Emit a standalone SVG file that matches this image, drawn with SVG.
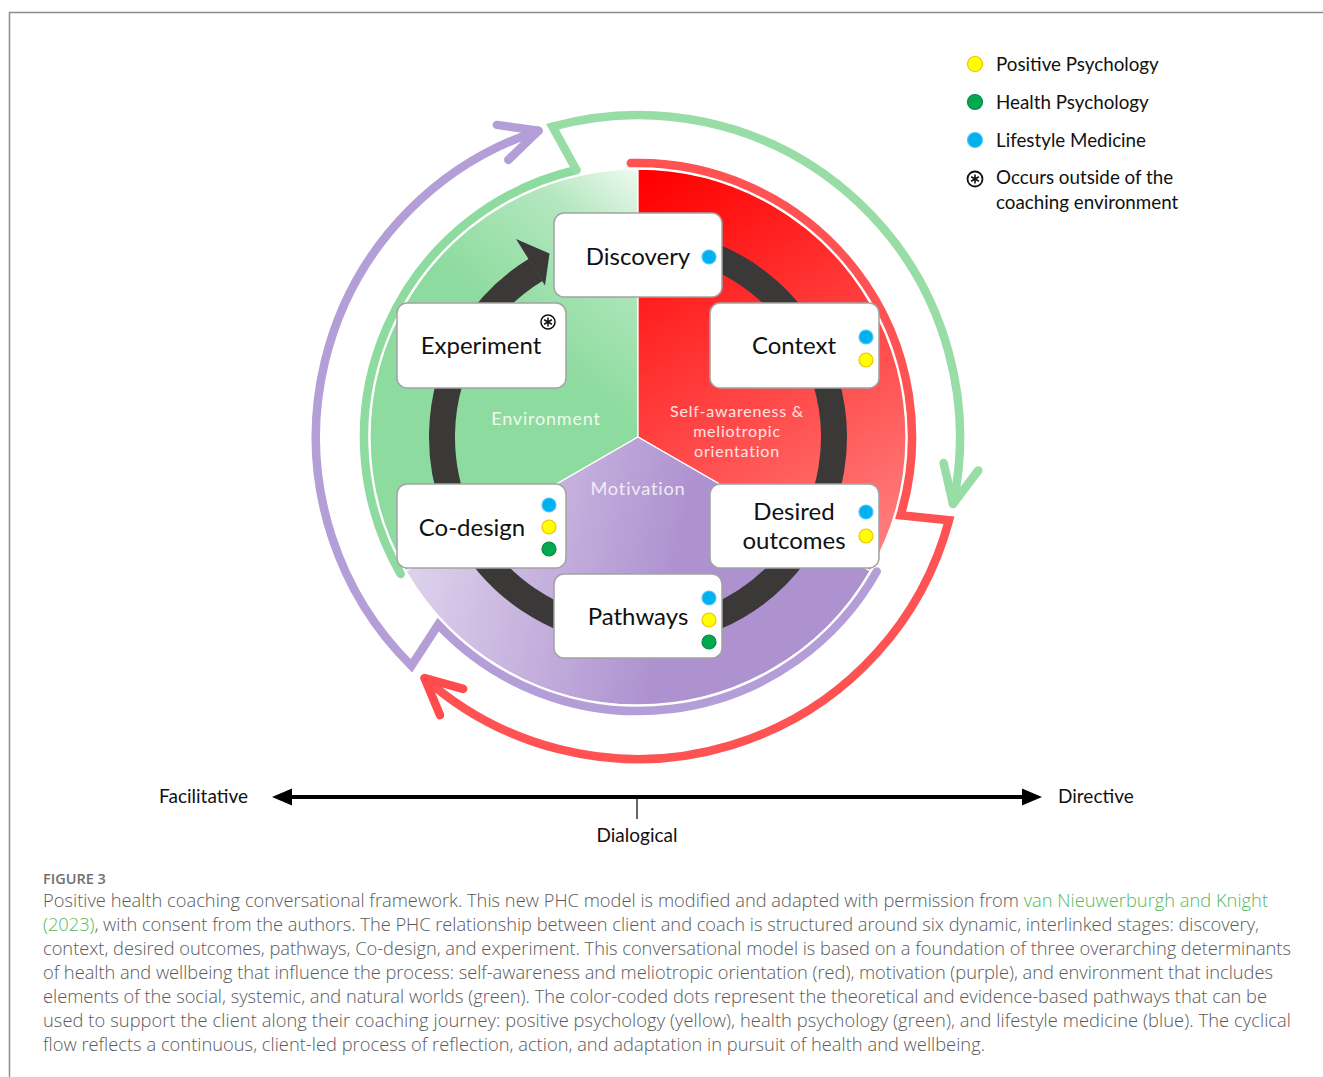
<svg xmlns="http://www.w3.org/2000/svg" width="1323" height="1077" viewBox="0 0 1323 1077">
  <style>
    .frame { stroke: #8c8c8c; stroke-width: 1.5; fill: none; }
    .box { fill: #ffffff; stroke: #a3a3a3; stroke-width: 1.5; }
    .btxt { font-family: Lato, "Liberation Sans", sans-serif; font-size: 24px; fill: #111; text-anchor: middle; }
    .stxt { font-family: Lato, "Liberation Sans", sans-serif; text-anchor: middle; letter-spacing: 0.8px; }
    .leg { font-family: Lato, "Liberation Sans", sans-serif; font-size: 18.8px; fill: #111; }
    .ax { font-family: Lato, "Liberation Sans", sans-serif; font-size: 19px; fill: #111; }
    .cap { font-family: "Open Sans", "Noto Sans", sans-serif; font-size: 18.3px; font-weight: 300; fill: #5a5a5a; }
    .link { fill: #55b85a; }
    .blue { fill: #00b0f0; stroke: #4fc6f3; stroke-width: 1.2; }
    .yel { fill: #ffff00; stroke: #f2c200; stroke-width: 1.2; }
    .grn { fill: #00a84f; stroke: #088a40; stroke-width: 1.2; }
    .flow { fill: none; stroke-width: 8.5; stroke-linecap: round; stroke-linejoin: miter; }
    .head { fill: none; stroke-width: 8.5; stroke-linecap: round; stroke-linejoin: round; }
    .sector { stroke: #ffffff; stroke-width: 1.3; }
  </style>
  <defs>
    <linearGradient id="gGreen" gradientUnits="userSpaceOnUse" x1="650" y1="172" x2="515" y2="330">
      <stop offset="0" stop-color="#f3fbf4"/>
      <stop offset="0.4" stop-color="#b3e7bf"/>
      <stop offset="1" stop-color="#8ddb9e"/>
    </linearGradient>
    <linearGradient id="gRed" gradientUnits="userSpaceOnUse" x1="650" y1="175" x2="885" y2="560">
      <stop offset="0" stop-color="#ff0000"/>
      <stop offset="1" stop-color="#ff8181"/>
    </linearGradient>
    <linearGradient id="gPurple" gradientUnits="userSpaceOnUse" x1="405" y1="585" x2="660" y2="640">
      <stop offset="0" stop-color="#ded2ec"/>
      <stop offset="1" stop-color="#ae92d0"/>
    </linearGradient>
  </defs>

  <!-- page frame -->
  <path class="frame" d="M9.5,1077 L9.5,12.5 L1323,12.5"/>

  <!-- three determinant sectors -->
  <g id="sector-environment">
    <path class="sector" fill="url(#gGreen)" d="M638,437 L405.9,571 A268,268 0 0 1 638,169 Z"/>
    <text class="stxt" x="546" y="425" font-size="18" fill="#eefaf0">Environment</text>
  </g>
  <g id="sector-self-awareness">
    <path class="sector" fill="url(#gRed)" d="M638,437 L638,169 A268,268 0 0 1 870.1,571 Z"/>
    <text class="stxt" x="737" y="417" font-size="16" fill="#ffe4e4">Self-awareness &amp;</text>
    <text class="stxt" x="737" y="437" font-size="16" fill="#ffe4e4">meliotropic</text>
    <text class="stxt" x="737" y="456.5" font-size="16" fill="#ffe4e4">orientation</text>
  </g>
  <g id="sector-motivation">
    <path class="sector" fill="url(#gPurple)" d="M638,437 L870.1,571 A268,268 0 0 1 405.9,571 Z"/>
    <text class="stxt" x="638" y="495" font-size="18.2" fill="#f1ebf8">Motivation</text>
  </g>

  <!-- connectors: outer flow arrows and inner cycle -->
  <g id="connectors">
    <path class="flow" stroke="#8ddb9e" d="M400.7,574 A274,274 0 0 1 576.4,170"/>
    <path class="flow" stroke="#98dca6" d="M576.4,170 L552.5,126.6 A322,322 0 0 1 953,503.9"/>
    <path class="head" stroke="#98dca6" d="M943.6,463 L953,503.9 L978.3,470.4"/>

    <path class="flow" stroke="#ff5252" d="M630.8,163.1 A274,274 0 0 1 900.6,515.3 L949,520.3 A322,322 0 0 1 424.6,678.2"/>
    <path class="head" stroke="#ff4b4b" d="M463.2,688.9 L424.6,678.2 L440,715.2"/>

    <path class="flow" stroke="#b39ed7" d="M876.7,571.5 A274,274 0 0 1 438.2,624.6 L411.4,665.8 A322,322 0 0 1 538.5,130.7"/>
    <path class="head" stroke="#b39ed7" d="M508.3,159.9 L538.5,130.7 L496.9,124.9"/>

    <path fill="none" stroke="#3b3838" stroke-width="26" d="M587.3,247.7 A196,196 0 1 1 535.6,269.9"/>
    <path fill="#3b3838" d="M516,239 L549.5,253.5 L545,285.5 Z"/>
  </g>

  <!-- stage nodes -->
  <g id="node-discovery">
    <rect class="box" x="554" y="213" width="168" height="84" rx="10"/>
    <text class="btxt" x="638" y="265">Discovery</text>
    <circle class="blue" cx="709" cy="257" r="7"/>
  </g>
  <g id="node-context">
    <rect class="box" x="710" y="303" width="169" height="85" rx="10"/>
    <text class="btxt" x="794" y="354">Context</text>
    <circle class="blue" cx="866" cy="337" r="7"/>
    <circle class="yel" cx="866" cy="360" r="7"/>
  </g>
  <g id="node-desired-outcomes">
    <rect class="box" x="710" y="484" width="169" height="84" rx="10"/>
    <text class="btxt" x="794" y="520">Desired</text>
    <text class="btxt" x="794" y="549">outcomes</text>
    <circle class="blue" cx="866" cy="512" r="7"/>
    <circle class="yel" cx="866" cy="536" r="7"/>
  </g>
  <g id="node-pathways">
    <rect class="box" x="554" y="574" width="168" height="84" rx="10"/>
    <text class="btxt" x="638" y="625">Pathways</text>
    <circle class="blue" cx="709" cy="598" r="7"/>
    <circle class="yel" cx="709" cy="620" r="7"/>
    <circle class="grn" cx="709" cy="642" r="7"/>
  </g>
  <g id="node-co-design">
    <rect class="box" x="397" y="484" width="169" height="84" rx="10"/>
    <text class="btxt" x="472" y="536">Co-design</text>
    <circle class="blue" cx="549" cy="505" r="7"/>
    <circle class="yel" cx="549" cy="527" r="7"/>
    <circle class="grn" cx="549" cy="549" r="7"/>
  </g>
  <g id="node-experiment">
    <rect class="box" x="397" y="303" width="169" height="85" rx="10"/>
    <text class="btxt" x="481" y="354">Experiment</text>
    <g stroke="#111" fill="none">
      <circle cx="548" cy="322" r="7" stroke-width="1.6"/>
      <path stroke-width="1.5" d="M548,317.5 V326.5 M544.1,319.75 L551.9,324.25 M544.1,324.25 L551.9,319.75"/>
    </g>
  </g>

  <!-- legend -->
  <g id="legend">
    <circle class="yel" cx="975" cy="64" r="7.5" stroke-width="1.8"/>
    <text class="leg" x="996" y="71">Positive Psychology</text>
    <circle class="grn" cx="975" cy="102" r="7.5"/>
    <text class="leg" x="996" y="109">Health Psychology</text>
    <circle class="blue" cx="975" cy="140" r="7.5"/>
    <text class="leg" x="996" y="147">Lifestyle Medicine</text>
    <g stroke="#111" fill="none">
      <circle cx="975" cy="179" r="7.5" stroke-width="1.8"/>
      <path stroke-width="1.6" d="M975,174.5 V183.5 M971.1,176.75 L978.9,181.25 M971.1,181.25 L978.9,176.75"/>
    </g>
    <text class="leg" x="996" y="184">Occurs outside of the</text>
    <text class="leg" x="996" y="209">coaching environment</text>
  </g>

  <!-- facilitative / directive axis -->
  <g id="axis">
    <line x1="288" y1="797" x2="1026" y2="797" stroke="#000" stroke-width="4"/>
    <path fill="#000" d="M272,797 L292,788.5 L292,805.5 Z M1042,797 L1022,788.5 L1022,805.5 Z"/>
    <line x1="637" y1="797" x2="637" y2="819" stroke="#000" stroke-width="1.2"/>
    <text class="ax" x="248" y="803" text-anchor="end">Facilitative</text>
    <text class="ax" x="1058" y="803">Directive</text>
    <text class="ax" x="637" y="842" text-anchor="middle">Dialogical</text>
  </g>

  <!-- caption -->
  <g id="caption">
    <text x="43" y="884" font-family="'Open Sans', 'Noto Sans', sans-serif" font-size="14.5" font-weight="600" fill="#707070">FIGURE 3</text>
    <text class="cap" x="43" y="907" textLength="1225" lengthAdjust="spacing">Positive health coaching conversational framework. This new PHC model is modified and adapted with permission from <tspan class="link">van Nieuwerburgh and Knight</tspan></text>
    <text class="cap" x="43" y="931" textLength="1216" lengthAdjust="spacing"><tspan class="link">(2023)</tspan>, with consent from the authors. The PHC relationship between client and coach is structured around six dynamic, interlinked stages: discovery,</text>
    <text class="cap" x="43" y="955" textLength="1248" lengthAdjust="spacing">context, desired outcomes, pathways, Co-design, and experiment. This conversational model is based on a foundation of three overarching determinants</text>
    <text class="cap" x="43" y="979" textLength="1230" lengthAdjust="spacing">of health and wellbeing that influence the process: self-awareness and meliotropic orientation (red), motivation (purple), and environment that includes</text>
    <text class="cap" x="43" y="1003" textLength="1224" lengthAdjust="spacing">elements of the social, systemic, and natural worlds (green). The color-coded dots represent the theoretical and evidence-based pathways that can be</text>
    <text class="cap" x="43" y="1027" textLength="1248" lengthAdjust="spacing">used to support the client along their coaching journey: positive psychology (yellow), health psychology (green), and lifestyle medicine (blue). The cyclical</text>
    <text class="cap" x="43" y="1051" textLength="942" lengthAdjust="spacing">flow reflects a continuous, client-led process of reflection, action, and adaptation in pursuit of health and wellbeing.</text>
  </g>
</svg>
